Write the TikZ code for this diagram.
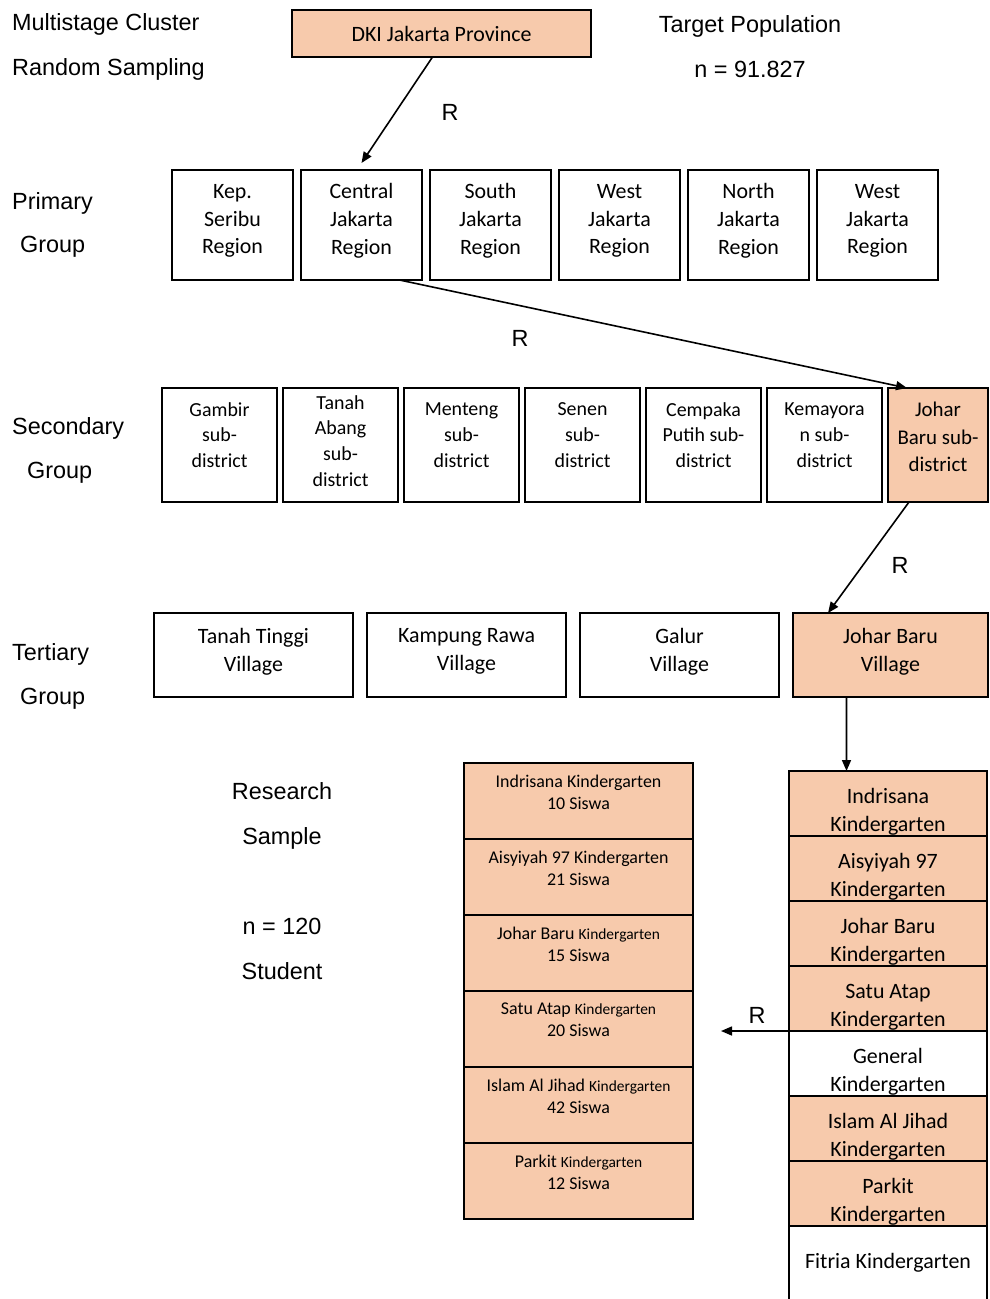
\documentclass[tikz,border=0pt]{standalone}
\usepackage{fontspec}
\setmainfont{Carlito}
\newfontfamily\arialfont{Liberation Sans}
\usetikzlibrary{arrows.meta, positioning, calc}
\definecolor{peach}{HTML}{F7CAAC}
\newcommand{\smallkg}{{\fontsize{15.5}{22}\selectfont Kindergarten}}
% first line pushed down a little, as in the village list
\newcommand{\schoolcell}[1]{\rule{0pt}{32bp}#1\\Kindergarten}
\tikzset{
  box/.style={
    rectangle, draw=black, line width=2.2bp, outer sep=0pt,
    inner sep=0pt, align=center
  },
  chosen/.style={fill=peach},
  raisetext/.style={execute at end node={\rule[-#1]{0pt}{#1}}},
  region/.style={
    box, minimum width=121bp, minimum height=110bp,
    font=\fontsize{22}{28}\selectfont, raisetext=12bp
  },
  subdist/.style={
    box, minimum width=115bp, minimum height=114bp,
    font=\fontsize{20}{26}\selectfont
  },
  village/.style={
    box, minimum width=199bp, minimum height=84bp,
    font=\fontsize{22}{28}\selectfont, raisetext=11bp
  },
  school/.style={
    box, minimum width=198bp, minimum height=65bp,
    font=\fontsize{22}{28}\selectfont
  },
  sample/.style={
    box, fill=peach, minimum width=229bp, minimum height=76bp,
    font=\fontsize{18}{22}\selectfont, raisetext=18bp
  },
  lbl/.style={inner sep=0pt, font=\arialfont\fontsize{23.5}{45}\selectfont},
  arrow/.style={-{Triangle[length=11bp,width=9bp]}, line width=1.6bp}
}

\begin{document}
\begin{tikzpicture}[x=1bp, y=-1bp]
  \useasboundingbox (0,0) rectangle (989,1299);

  % top: method, province, population
  \node[lbl, anchor=west, align=left] (title) at (12,47) {Multistage Cluster\\Random Sampling};
  \node[lbl, align=center] (target) at (750,47) {Target Population\\n = 91.827};
  \node[box, chosen, minimum width=299bp, minimum height=47bp,
        font=\fontsize{22}{28}\selectfont, anchor=north west] (prov) at (292,10) {DKI Jakarta Province};

  % primary group
  \node[lbl, anchor=west] (prim) at (12,203) {Primary};
  \node[lbl, anchor=west] (primgrp) at (20,247) {Group};
  \node[region, anchor=north west] (reg1) at (172,170) {Kep.\\Seribu\\Region};
  \node[region, right=8bp of reg1] (reg2) {Central\\Jakarta\\Region};
  \node[region, right=8bp of reg2] (reg3) {South\\Jakarta\\Region};
  \node[region, right=8bp of reg3] (reg4) {West\\Jakarta\\Region};
  \node[region, right=8bp of reg4] (reg5) {North\\Jakarta\\Region};
  \node[region, right=8bp of reg5] (reg6) {West\\Jakarta\\Region};

  % secondary group
  \node[lbl, anchor=west] (sec) at (12,428) {Secondary};
  \node[lbl, anchor=west] (secgrp) at (27,473) {Group};
  \node[subdist, raisetext=20bp, anchor=north west] (sub1) at (162,388) {Gambir\\sub-\\district};
  \node[subdist, raisetext=8bp, right=6bp of sub1] (sub2) {Tanah\\Abang\\sub-\\district};
  \node[subdist, raisetext=20bp, right=6bp of sub2] (sub3) {Menteng\\sub-\\district};
  \node[subdist, raisetext=20bp, right=6bp of sub3] (sub4) {Senen\\sub-\\district};
  \node[subdist, raisetext=20bp, right=6bp of sub4] (sub5) {Cempaka\\Putih sub-\\district};
  \node[subdist, raisetext=20bp, right=6bp of sub5] (sub6) {Kemayora\\n sub-\\district};
  \node[subdist, chosen, raisetext=16bp, font=\fontsize{21}{27.5}\selectfont,
        minimum width=100bp, right=6bp of sub6] (sub7) {Johar\\Baru sub-\\district};

  % tertiary group
  \node[lbl, anchor=west] (ter) at (12,654) {Tertiary};
  \node[lbl, anchor=west] (tergrp) at (20,699) {Group};
  \node[village, anchor=north west] (vil1) at (154,613) {Tanah Tinggi\\Village};
  \node[village, right=14bp of vil1] (vil2) {Kampung Rawa\\Village};
  \node[village, right=14bp of vil2] (vil3) {Galur\\Village};
  \node[village, chosen, minimum width=195bp, right=14bp of vil3] (vil4) {Johar Baru\\Village};

  % kindergartens in the village
  \node[school, chosen, anchor=north west] (kg1) at (789,771) {\schoolcell{Indrisana}};
  \node[school, chosen, below=0pt of kg1] (kg2) {\schoolcell{Aisyiyah 97}};
  \node[school, chosen, below=0pt of kg2] (kg3) {\schoolcell{Johar Baru}};
  \node[school, chosen, below=0pt of kg3] (kg4) {\schoolcell{Satu Atap}};
  \node[school, below=0pt of kg4] (kg5) {\schoolcell{General}};
  \node[school, chosen, below=0pt of kg5] (kg6) {\schoolcell{Islam Al Jihad}};
  \node[school, chosen, below=0pt of kg6] (kg7) {\schoolcell{Parkit}};
  \node[school, minimum height=74bp, below=0pt of kg7] (kg8) {Fitria Kindergarten};

  % research sample
  \node[lbl, align=center] (research) at (282,881) {Research\\Sample\\[45bp]n = 120\\Student};
  \node[sample, anchor=north west] (smp1) at (464,763) {Indrisana Kindergarten\\10 Siswa};
  \node[sample, below=0pt of smp1] (smp2) {Aisyiyah 97 Kindergarten\\21 Siswa};
  \node[sample, below=0pt of smp2] (smp3) {Johar Baru \smallkg\\15 Siswa};
  \node[sample, below=0pt of smp3] (smp4) {Satu Atap \smallkg\\20 Siswa};
  \node[sample, below=0pt of smp4] (smp5) {Islam Al Jihad \smallkg\\42 Siswa};
  \node[sample, below=0pt of smp5] (smp6) {Parkit \smallkg\\12 Siswa};

  % random picks
  \draw[arrow] ([xshift=-9bp]prov.south) -- ([yshift=7bp]reg2.north);
  \node[lbl] (r1) at (450,112) {R};
  \draw[arrow] ([xshift=38bp]reg2.south) -- ([xshift=19bp]sub7.north west);
  \node[lbl] (r2) at (520,338) {R};
  \draw[arrow] ([xshift=-29bp]sub7.south) -- ([xshift=35bp]vil4.north west);
  \node[lbl] (r3) at (900,565) {R};
  \draw[arrow] ([xshift=-44bp]vil4.south) -- ([xshift=-41.5bp]kg1.north);
  \coordinate (pick) at ($(kg4.south west)+(-68,0)$);
  \draw[arrow] (kg4.south west) -- (pick);
  \node[lbl] (r4) at (757,1015) {R};
\end{tikzpicture}
\end{document}
